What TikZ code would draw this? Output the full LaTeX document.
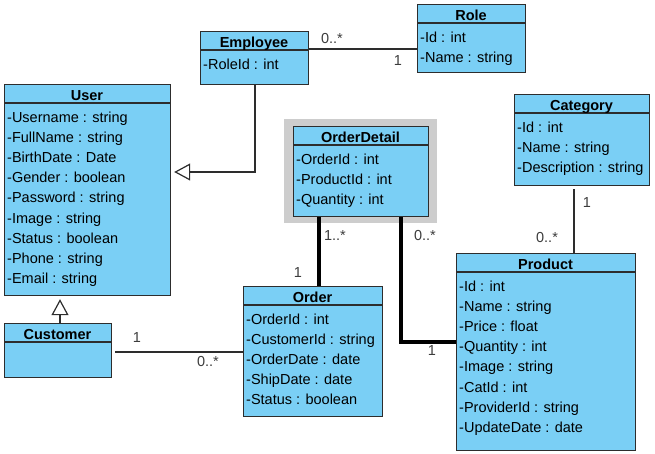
\documentclass[tikz,border=0pt]{standalone}
\usepackage{fontspec}
\setmainfont{Liberation Sans}
\usetikzlibrary{arrows.meta,calc}

\definecolor{classfill}{RGB}{122,207,245}
\definecolor{linegray}{RGB}{45,45,45}
\definecolor{labgray}{RGB}{60,60,60}
\definecolor{framegray}{RGB}{205,205,205}

\tikzset{
  classbox/.style={draw=linegray,fill=classfill,line width=1.2pt,inner sep=0pt,anchor=north west},
  classtitle/.style={font=\bfseries,anchor=base,inner sep=0pt},
  attr/.style={anchor=base west,inner sep=0pt},
  mult/.style={text=labgray,inner sep=0pt},
  assoc/.style={draw=linegray,line width=1.2pt},
  heavy/.style={draw=black,line width=4pt},
  gen/.style={draw=linegray,line width=1.2pt,-{Triangle[open,fill=white,length=16pt,width=17pt]},shorten >=3pt}
}

% name, x0, y0, x1, y1, title
\newcommand{\umlclass}[6]{%
  \node[classbox,minimum width={(#4-#2)*1pt},minimum height={(#5-#3)*1pt}] (#1) at (#2,-#3) {};
  \draw[linegray,line width=1.2pt] (#2,-#3-19) -- (#4,-#3-19);
  \node[classtitle] (#1-title) at ({(#2+#4)/2},-#3-16.5) {#6};
}
% name, x0, y0, attributes
\newcommand{\umlattrs}[4]{%
  \foreach \a [count=\i] in {#4}
    \node[attr] (#1-\i) at (#2+3,{-#3-38-(\i-1)*20.2}) {\a};
}

\begin{document}
\begin{tikzpicture}[x=1pt,y=1pt]
\fontsize{14.5}{16}\selectfont
\useasboundingbox (0,0) rectangle (655,-453);

\umlclass{emp}{200}{31}{308}{84}{Employee}
\umlattrs{emp}{200}{31}{-RoleId : int}
\umlclass{role}{417}{4}{525}{72}{Role}
\umlattrs{role}{417}{4}{-Id : int,-Name : string}
\umlclass{user}{4}{84}{170}{295}{User}
\umlattrs{user}{4}{84}{-Username : string,-FullName : string,-BirthDate : Date,-Gender : boolean,-Password : string,-Image : string,-Status : boolean,-Phone : string,-Email : string}
\umlclass{cust}{4}{323}{111}{377}{Customer}

\fill[framegray] (284,-119) rectangle (437,-223);
\umlclass{od}{293}{126}{428}{216}{OrderDetail}
\umlattrs{od}{293}{126}{-OrderId : int,-ProductId : int,-Quantity : int}
\umlclass{order}{243}{286}{382}{416}{Order}
\umlattrs{order}{243}{286}{-OrderId : int,-CustomerId : string,-OrderDate : date,-ShipDate : date,-Status : boolean}
\umlclass{cat}{514}{94}{649}{185}{Category}
\umlattrs{cat}{514}{94}{-Id : int,-Name : string,-Description : string}
\umlclass{prod}{456}{253}{635}{450}{Product}
\umlattrs{prod}{456}{253}{-Id : int,-Name : string,-Price : float,-Quantity : int,-Image : string,-CatId : int,-ProviderId : string,-UpdateDate : date}

% connectors
\coordinate (c1) at (0,-49);
\coordinate (c2) at (255,-172);
\coordinate (c3) at (60,0);
\coordinate (c4) at (0,-352);
\coordinate (c5) at (319,0);
\coordinate (c6) at (401,-342);
\coordinate (c7) at (574,0);
\draw[assoc] (c1 -| emp.east) -- (c1 -| role.west);
\draw[gen] (c2 |- emp.south) -- (c2) -- (c2 -| user.east);
\draw[gen] (c3 |- cust.north) -- (c3 |- user.south);
\draw[assoc] ([xshift=3pt]c4 -| cust.east) -- (c4 -| order.west);
\draw[heavy] (c5 |- od.south) -- (c5 |- order.north);
\draw[heavy] (c6 |- od.south) -- (c6) -- (c6 -| prod.west);
\draw[assoc] ([yshift=-3pt]c7 |- cat.south) -- (c7 |- prod.north);

% multiplicities
\node[mult] (m1) at (332,-38.5) {0..*};
\node[mult] (m2) at (398,-61) {1};
\node[mult] (m3) at (137,-338) {1};
\node[mult] (m4) at (208,-362) {0..*};
\node[mult] (m5) at (335,-236) {1..*};
\node[mult] (m6) at (298,-273) {1};
\node[mult] (m7) at (425,-236) {0..*};
\node[mult] (m8) at (432,-351) {1};
\node[mult] (m9) at (587,-203) {1};
\node[mult] (m10) at (547,-238) {0..*};
\end{tikzpicture}
\end{document}
